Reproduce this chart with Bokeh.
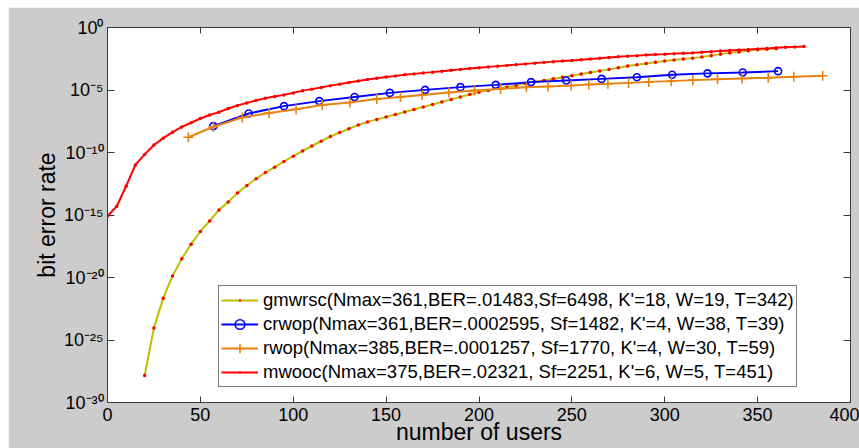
from bokeh.plotting import figure
from bokeh.models import (Range1d, FixedTicker, LinearAxis, LogAxis, Legend,
                          LegendItem)
from bokeh.embed import file_html
from bokeh.resources import INLINE

# ---------------- data ----------------
# mwooc: users 0..375 step 5, log10(BER)
mwooc_users = list(range(0, 376, 5))
mwooc_log10_ber = [
    -15.1, -14.3, -12.7, -11.0, -10.15, -9.4, -8.85, -8.37, -7.95, -7.62,
    -7.28, -7.0, -6.77, -6.48, -6.24, -6.03, -5.84, -5.65, -5.52, -5.39,
    -5.23, -5.05, -4.93, -4.80, -4.65, -4.53, -4.40, -4.28, -4.16, -4.06,
    -3.96, -3.87, -3.78, -3.71, -3.63, -3.57, -3.50, -3.42, -3.35, -3.28,
    -3.22, -3.15, -3.09, -3.03, -2.97, -2.91, -2.85, -2.79, -2.73, -2.68,
    -2.64, -2.58, -2.52, -2.46, -2.40, -2.34, -2.29, -2.25, -2.20, -2.16,
    -2.13, -2.09, -2.06, -2.03, -1.98, -1.93, -1.88, -1.84, -1.80, -1.76,
    -1.71, -1.67, -1.62, -1.58, -1.55, -1.52]

# gmwrsc: users 20..360 step 5
gm_users = list(range(20, 361, 5))
gm_log10_ber = [
    -27.84, -24.03, -21.65, -19.87, -18.5, -17.33, -16.32, -15.47, -14.6, -13.95,
    -13.23, -12.64, -12.1, -11.6, -11.17, -10.72, -10.29, -9.88, -9.48, -9.1,
    -8.72, -8.4, -8.1, -7.8, -7.55, -7.35, -7.15, -6.96, -6.75, -6.56,
    -6.35, -6.16, -5.95, -5.76, -5.55, -5.36, -5.17, -5.03, -4.88, -4.75,
    -4.63, -4.48, -4.32, -4.24, -4.10, -3.98, -3.85, -3.72, -3.60, -3.47,
    -3.35, -3.22, -3.08, -2.98, -2.88, -2.78, -2.68, -2.60, -2.52, -2.45,
    -2.35, -2.25, -2.13, -2.03, -1.95, -1.85, -1.77, -1.73, -1.70]

# crwop
crwop_users = [57, 76, 95, 114, 133, 152, 171, 190, 209, 228, 247, 266, 285,
               304, 323, 342, 361]
crwop_log10_ber = [-7.89, -6.88, -6.29, -5.89, -5.56, -5.23, -4.99, -4.77,
                   -4.59, -4.37, -4.24, -4.11, -3.98, -3.78, -3.67, -3.6, -3.49]

# rwop
rwop_users = [43.5, 57, 72.5, 87, 101.5, 115.6, 130.5, 145, 157.7, 169.4,
              183.8, 197.6, 211.6, 225.5, 237.2, 249.6, 259.1, 269.4, 280.5,
              291.4, 303.5, 315.1, 328.4, 341.6, 355.7, 369.5, 385]
rwop_log10_ber = [-8.78, -7.94, -7.2, -6.84, -6.54, -6.2, -6.0, -5.72, -5.56,
                  -5.4, -5.2, -5.04, -4.91, -4.78, -4.72, -4.64, -4.56, -4.5,
                  -4.43, -4.35, -4.29, -4.21, -4.14, -4.08, -4.02, -3.94, -3.86]

legend_labels = [
    "gmwrsc(Nmax=361,BER=.01483,Sf=6498, K'=18, W=19, T=342)",
    "crwop(Nmax=361,BER=.0002595, Sf=1482, K'=4, W=38, T=39)",
    "rwop(Nmax=385,BER=.0001257, Sf=1770, K'=4, W=30, T=59)",
    "mwooc(Nmax=375,BER=.02321, Sf=2251, K'=6, W=5, T=451)",
]

x_ticks = [0, 50, 100, 150, 200, 250, 300, 350, 400]
y_tick_exponents = [0, -5, -10, -15, -20, -25, -30]
y_tick_labels = ["10\u2070", "10\u207b\u2075", "10\u207b\u00b9\u2070",
                 "10\u207b\u00b9\u2075", "10\u207b\u00b2\u2070",
                 "10\u207b\u00b2\u2075", "10\u207b\u00b3\u2070"]

FONT = "Liberation Sans"
AXIS_COL = "#3a3a3a"


def ber(exps):
    return [10.0 ** e for e in exps]


p = figure(width=851, height=441, output_backend="svg", toolbar_location=None,
           x_range=Range1d(0, 400), y_range=Range1d(1e-30, 1.0),
           y_axis_type="log",
           background_fill_color="white", border_fill_color="#cccccc",
           min_border_left=99, min_border_right=9, min_border_top=20,
           min_border_bottom=46)
p.margin = (7, 0, 0, 8)
p.outline_line_color = AXIS_COL
p.xgrid.visible = False
p.ygrid.visible = False

y_tick_vals = [10.0 ** e for e in y_tick_exponents]
blank_x = {t: "" for t in x_ticks}
blank_y = {v: "" for v in y_tick_vals}

# bottom axis
xa = p.xaxis[0]
xa.ticker = FixedTicker(ticks=x_ticks)
xa.major_tick_in = 6
xa.major_tick_out = 0
xa.minor_tick_line_color = None
xa.axis_line_color = AXIS_COL
xa.major_tick_line_color = AXIS_COL
xa.major_label_text_font = FONT
xa.major_label_text_font_size = "18px"
xa.major_label_text_color = "black"
xa.major_label_standoff = 5
xa.axis_label = "number of users"
xa.axis_label_text_font = FONT
xa.axis_label_text_font_size = "23px"
xa.axis_label_text_font_style = "normal"
xa.axis_label_text_color = "black"
xa.axis_label_standoff = -5

# left axis
ya = p.yaxis[0]
ya.ticker = FixedTicker(ticks=y_tick_vals)
ya.major_tick_in = 7
ya.major_tick_out = 0
ya.minor_tick_line_color = None
ya.axis_line_color = AXIS_COL
ya.major_tick_line_color = AXIS_COL
ya.major_label_overrides = dict(zip(y_tick_vals, y_tick_labels))
ya.major_label_text_font = FONT
ya.major_label_text_font_size = "18px"
ya.major_label_text_color = "black"
ya.major_label_standoff = 4
ya.axis_label = "bit error rate"
ya.axis_label_text_font = FONT
ya.axis_label_text_font_size = "23px"
ya.axis_label_text_font_style = "normal"
ya.axis_label_text_color = "black"
ya.axis_label_standoff = 1

# top and right axes (box with inward ticks)
top = LinearAxis(ticker=FixedTicker(ticks=x_ticks), major_tick_in=6,
                 major_tick_out=0, minor_tick_line_color=None,
                 axis_line_color=AXIS_COL, major_tick_line_color=AXIS_COL,
                 major_label_overrides=blank_x)
p.add_layout(top, "above")
right = LogAxis(ticker=FixedTicker(ticks=y_tick_vals), major_tick_in=7,
                major_tick_out=0, minor_tick_line_color=None,
                axis_line_color=AXIS_COL, major_tick_line_color=AXIS_COL,
                major_label_overrides=blank_y)
p.add_layout(right, "right")

# series
gm_line = p.line(gm_users, ber(gm_log10_ber), line_color="#bfbf00", line_width=2)
gm_pts = p.scatter(gm_users, ber(gm_log10_ber), marker="dot", size=14,
                   fill_color="red", line_color="red")

cr_line = p.line(crwop_users, ber(crwop_log10_ber), line_color="#0000ff",
                 line_width=2)
cr_pts = p.scatter(crwop_users, ber(crwop_log10_ber), marker="circle", size=7,
                   fill_color=None, line_color="#0000ff", line_width=1.6)

rw_line = p.line(rwop_users, ber(rwop_log10_ber), line_color="#e8820e",
                 line_width=2)
rw_pts = p.scatter(rwop_users, ber(rwop_log10_ber), marker="cross", size=10,
                   line_color="#e8820e", line_width=1.6)

mw_line = p.line(mwooc_users, ber(mwooc_log10_ber), line_color="#ff0000",
                 line_width=2)
mw_pts = p.scatter(mwooc_users, ber(mwooc_log10_ber), marker="dot", size=14,
                   fill_color="red", line_color="red")

legend = Legend(items=[
    LegendItem(label=legend_labels[0], renderers=[gm_line, gm_pts]),
    LegendItem(label=legend_labels[1], renderers=[cr_line, cr_pts]),
    LegendItem(label=legend_labels[2], renderers=[rw_line, rw_pts]),
    LegendItem(label=legend_labels[3], renderers=[mw_line, mw_pts]),
], location=(111, 15))
legend.border_line_color = "black"
legend.border_line_width = 1
legend.background_fill_color = "white"
legend.background_fill_alpha = 1.0
legend.label_text_font = FONT
legend.label_text_font_size = "18.5px"
legend.label_text_color = "black"
legend.glyph_width = 37
legend.glyph_height = 24
legend.label_height = 24
legend.label_standoff = 5
legend.spacing = 0
legend.padding = 2
legend.margin = 0
p.add_layout(legend)

open("out.html", "w").write(file_html(p, INLINE))
